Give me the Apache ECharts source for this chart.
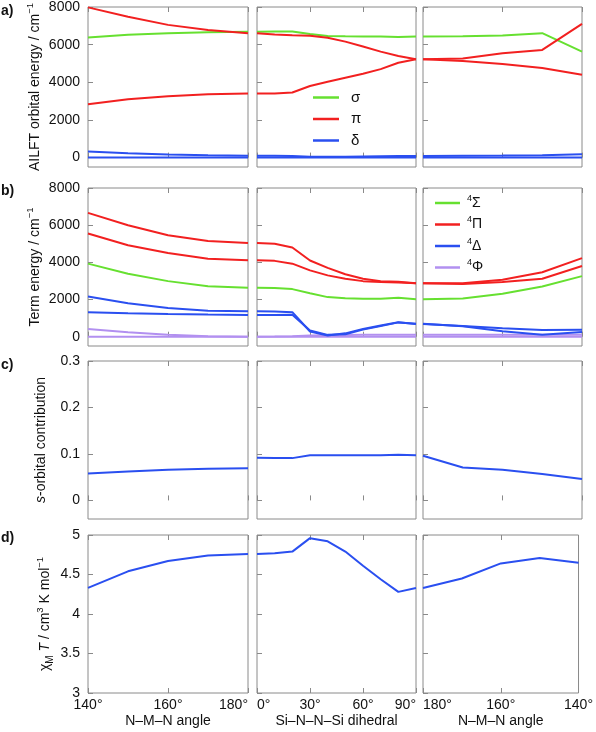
<!DOCTYPE html>
<html><head><meta charset="utf-8">
<script src="https://cdn.jsdelivr.net/npm/echarts@6/dist/echarts.min.js"></script>
<style>html,body{margin:0;padding:0;background:#fff}#c{width:596px;height:732px}</style>
</head><body><div id="c"></div>
<script>
// x values per column
const xAngle = [140, 150, 160, 170, 180];
const xDihedral = [0, 10, 20, 30, 40, 50, 60, 70, 80, 90];
const xAngleRev = [180, 170, 160, 150, 140];

// x tick labels
const xTicksAngle = [140, 160, 180];
const xTicksDihedral = [0, 30, 60, 90];
const xNames = ['N–M–N angle', 'Si–N–N–Si dihedral', 'N–M–N angle'];

// y tick labels
const yTicksA = [0, 2000, 4000, 6000, 8000];
const yTicksB = [0, 2000, 4000, 6000, 8000];
const yTicksC = [0, 0.1, 0.2, 0.3];
const yTicksD = [3, 3.5, 4, 4.5, 5];

// a) AILFT orbital energies
const aSigma1 = [6380, 6520, 6600, 6660, 6690];
const aPiHigh1 = [7980, 7480, 7050, 6780, 6610];
const aPiLow1 = [2830, 3100, 3260, 3360, 3400];
const aDeltaHigh1 = [320, 230, 170, 120, 100];
const aDeltaLow1 = [0, 0, 0, 0, 0];

const aSigma2 = [6690, 6700, 6700, 6560, 6460, 6440, 6430, 6430, 6400, 6430];
const aPiHigh2 = [6610, 6540, 6500, 6470, 6370, 6160, 5900, 5630, 5400, 5220];
const aPiLow2 = [3400, 3410, 3460, 3800, 4030, 4240, 4450, 4700, 5040, 5220];
const aDeltaHigh2 = [100, 100, 80, 40, 40, 50, 60, 70, 80, 90];
const aDeltaLow2 = [0, 0, 0, 0, 0, 0, 0, 0, 0, 0];

const aSigma3 = [6430, 6440, 6490, 6610, 5630];
const aPiHigh3 = [5220, 5270, 5540, 5720, 7100];
const aPiLow3 = [5220, 5130, 4970, 4760, 4400];
const aDeltaHigh3 = [90, 100, 110, 130, 180];
const aDeltaLow3 = [0, 0, 0, 0, 0];

// b) term energies
const bPi1_1 = [6660, 6000, 5460, 5150, 5040];
const bPi2_1 = [5550, 4920, 4500, 4200, 4110];
const bSigma_1 = [3930, 3390, 2990, 2720, 2630];
const bDelta1_1 = [2160, 1800, 1550, 1400, 1370];
const bDelta2_1 = [1320, 1260, 1220, 1190, 1170];
const bPhi1_1 = [410, 240, 110, 20, 0];
const bPhi2_1 = [0, 0, 0, 0, 0];

const bPi1_2 = [5040, 5000, 4800, 4100, 3700, 3360, 3120, 2990, 2960, 2880];
const bPi2_2 = [4110, 4080, 3930, 3570, 3300, 3120, 2990, 2940, 2920, 2880];
const bSigma_2 = [2630, 2620, 2560, 2340, 2130, 2070, 2040, 2040, 2090, 2020];
const bDelta1_2 = [1370, 1360, 1320, 280, 60, 180, 420, 600, 780, 690];
const bDelta2_2 = [1170, 1170, 1180, 330, 100, 130, 380, 570, 770, 700];
const bPhi1_2 = [0, 10, 30, 60, 80, 90, 100, 100, 100, 100];
const bPhi2_2 = [0, 0, 0, 0, 0, 0, 0, 0, 0, 0];

const bPi1_3 = [2880, 2880, 3060, 3470, 4230];
const bPi2_3 = [2880, 2840, 2940, 3120, 3800];
const bSigma_3 = [2020, 2060, 2310, 2700, 3260];
const bDelta1_3 = [690, 580, 450, 360, 380];
const bDelta2_3 = [700, 560, 290, 110, 250];
const bPhi1_3 = [100, 100, 100, 100, 100];
const bPhi2_3 = [0, 0, 0, 0, 0];

// c) s-orbital contribution
const cS1 = [0.058, 0.062, 0.066, 0.068, 0.069];
const cS2 = [0.092, 0.091, 0.091, 0.097, 0.097, 0.097, 0.097, 0.097, 0.098, 0.097];
const cS3 = [0.096, 0.071, 0.066, 0.057, 0.046];

// d) chi_M T
const dChiT1 = [4.33, 4.54, 4.67, 4.74, 4.76];
const dChiT2 = [4.76, 4.77, 4.79, 4.96, 4.92, 4.79, 4.61, 4.44, 4.28, 4.33];
const dChiT3 = [4.33, 4.45, 4.64, 4.71, 4.65];

// ---------------- layout / styles ----------------
const GREEN = '#66e030', RED = '#f22020', BLUE = '#2a4ff0', PURPLE = '#b290f0';
const FONT = 'Liberation Sans';
const BORDER = '#8a8a8a';
const TXT = '#111';

const colX = [xAngle, xDihedral, xAngleRev];
const cols = [{left: 88, width: 160}, {left: 257, width: 159}, {left: 423, width: 159}];
const rows = [{top: 7, height: 160}, {top: 188, height: 158}, {top: 361, height: 158}, {top: 535, height: 158}];

const xCfg = [
  {min: 140, max: 180, interval: 20, inverse: false, aMin: 'center', aMax: 'right'},
  {min: 0, max: 90, interval: 30, inverse: false, aMin: 'left', aMax: 'right'},
  {min: 140, max: 180, interval: 20, inverse: true, aMin: 'center', aMax: 'left'}
];
const yCfg = [
  {min: -500, max: 8000, ticks: yTicksA, name: 'AILFT orbital energy / cm{sup|−1}', gap: 43},
  {min: -500, max: 8000, ticks: yTicksB, name: 'Term energy / cm{sup|−1}', gap: 43},
  {min: -0.04, max: 0.3, ticks: yTicksC, name: '{it|s}-orbital contribution', gap: 37},
  {min: 3, max: 5, ticks: yTicksD, name: 'χ{sub|M} {it|T} / cm{sup|3} K mol{sup|−1}', gap: 33}
];

// series per [row][col]
const panels = [
  [
    [['σ', GREEN, aSigma1], ['π', RED, aPiHigh1], ['π', RED, aPiLow1], ['δ', BLUE, aDeltaHigh1], ['δ', BLUE, aDeltaLow1]],
    [['σ', GREEN, aSigma2], ['π', RED, aPiHigh2], ['π', RED, aPiLow2], ['δ', BLUE, aDeltaHigh2], ['δ', BLUE, aDeltaLow2]],
    [['σ', GREEN, aSigma3], ['π', RED, aPiHigh3], ['π', RED, aPiLow3], ['δ', BLUE, aDeltaHigh3], ['δ', BLUE, aDeltaLow3]]
  ],
  [
    [['Phi', PURPLE, bPhi1_1], ['Phi', PURPLE, bPhi2_1], ['Sig', GREEN, bSigma_1], ['Pi', RED, bPi1_1], ['Pi', RED, bPi2_1], ['Del', BLUE, bDelta1_1], ['Del', BLUE, bDelta2_1]],
    [['Phi', PURPLE, bPhi1_2], ['Phi', PURPLE, bPhi2_2], ['Sig', GREEN, bSigma_2], ['Pi', RED, bPi1_2], ['Pi', RED, bPi2_2], ['Del', BLUE, bDelta1_2], ['Del', BLUE, bDelta2_2]],
    [['Phi', PURPLE, bPhi1_3], ['Phi', PURPLE, bPhi2_3], ['Sig', GREEN, bSigma_3], ['Pi', RED, bPi1_3], ['Pi', RED, bPi2_3], ['Del', BLUE, bDelta1_3], ['Del', BLUE, bDelta2_3]]
  ],
  [[['s', BLUE, cS1]], [['s', BLUE, cS2]], [['s', BLUE, cS3]]],
  [[['chi', BLUE, dChiT1]], [['chi', BLUE, dChiT2]], [['chi', BLUE, dChiT3]]]
];

const grid = [], xAxis = [], yAxis = [], series = [];
const richName = {
  sup: {fontSize: 9.5, fontFamily: FONT, color: TXT, verticalAlign: 'top', lineHeight: 10},
  sub: {fontSize: 10, fontFamily: FONT, color: TXT, verticalAlign: 'bottom', lineHeight: 10},
  it: {fontSize: 14, fontFamily: FONT, fontStyle: 'italic', color: TXT, lineHeight: 20}
};
const numFmt = v => String(+v.toFixed(6));

rows.forEach((r, ri) => {
  cols.forEach((c, ci) => {
    const gi = grid.length;
    grid.push({left: c.left, top: r.top, width: c.width, height: r.height, show: true,
      borderColor: BORDER, borderWidth: 1, backgroundColor: 'transparent', containLabel: false});
    const xc = xCfg[ci];
    const showX = ri === 3;
    // bottom x axis
    xAxis.push({
      type: 'value', gridIndex: gi, min: xc.min, max: xc.max, interval: xc.interval, inverse: xc.inverse,
      position: 'bottom',
      axisLine: {show: false},
      axisTick: {show: true, inside: true, length: 5, lineStyle: {color: BORDER}},
      splitLine: {show: false},
      axisLabel: {show: showX, margin: 5, fontFamily: FONT, fontSize: 14, color: TXT,
        formatter: v => v + '°', alignMinLabel: xc.aMin, alignMaxLabel: xc.aMax},
      name: showX ? xNames[ci] : '', nameLocation: 'middle', nameGap: 21,
      nameTextStyle: {fontFamily: FONT, fontSize: 14, color: TXT, verticalAlign: 'top'}
    });
    // top mirrored ticks
    xAxis.push({
      type: 'value', gridIndex: gi, min: xc.min, max: xc.max, interval: xc.interval, inverse: xc.inverse,
      position: 'top',
      axisLine: {show: false},
      axisTick: {show: true, inside: true, length: 5, lineStyle: {color: BORDER}},
      splitLine: {show: false}, axisLabel: {show: false}
    });
    const yc = yCfg[ri];
    yAxis.push({
      type: 'value', gridIndex: gi, min: yc.min, max: yc.max,
      axisLine: {show: false},
      axisTick: {show: true, inside: true, length: 5, lineStyle: {color: BORDER}, customValues: yc.ticks},
      splitLine: {show: false},
      axisLabel: {show: ci === 0, margin: 8, fontFamily: FONT, fontSize: 14, color: TXT,
        customValues: yc.ticks, formatter: numFmt},
      name: ci === 0 ? yc.name : '', nameLocation: 'middle', nameGap: yc.gap,
      nameTextStyle: {fontFamily: FONT, fontSize: 14, color: TXT, lineHeight: 20, rich: richName}
    });
    panels[ri][ci].forEach(([name, color, vals]) => {
      series.push({
        type: 'line', name: name, xAxisIndex: gi * 2, yAxisIndex: gi,
        data: colX[ci].map((x, i) => [x, vals[i]]),
        symbol: 'none', smooth: false, silent: true,
        lineStyle: {color: color, width: 2},
        itemStyle: {color: color},
        z: 3
      });
    });
  });
});

const bLegendText = {Sig: '{sup|4}Σ', Pi: '{sup|4}Π', Del: '{sup|4}Δ', Phi: '{sup|4}Φ'};
const legRich = {
  sup: {fontSize: 9, fontFamily: FONT, color: TXT, verticalAlign: 'top', lineHeight: 10},
};

const option = {
  animation: false,
  backgroundColor: '#fff',
  textStyle: {fontFamily: FONT},
  grid, xAxis, yAxis, series,
  legend: [
    {
      data: ['σ', 'π', 'δ'], orient: 'vertical', left: 313, top: 90,
      icon: 'rect', itemWidth: 26, itemHeight: 2.5, itemGap: 6.5, selectedMode: false,
      padding: 0,
      textStyle: {fontFamily: FONT, fontSize: 15, color: TXT, lineHeight: 14, padding: [0, 0, 0, 7]}
    },
    {
      data: ['Sig', 'Pi', 'Del', 'Phi'], orient: 'vertical', left: 435, top: 194,
      icon: 'rect', itemWidth: 25, itemHeight: 2.5, itemGap: 3.5, selectedMode: false,
      padding: 0,
      formatter: n => bLegendText[n],
      textStyle: {fontFamily: FONT, fontSize: 14, color: TXT, lineHeight: 18, padding: [0, 0, 0, 2], rich: legRich}
    }
  ],
  graphic: [
    {type: 'text', left: 1, top: 4, style: {text: 'a)', font: 'bold 14px "Liberation Sans"', fill: TXT}},
    {type: 'text', left: 1, top: 184, style: {text: 'b)', font: 'bold 14px "Liberation Sans"', fill: TXT}},
    {type: 'text', left: 1, top: 358, style: {text: 'c)', font: 'bold 14px "Liberation Sans"', fill: TXT}},
    {type: 'text', left: 1, top: 531, style: {text: 'd)', font: 'bold 14px "Liberation Sans"', fill: TXT}}
  ]
};

const chart = echarts.init(document.getElementById('c'), null, {renderer: 'canvas'});
chart.setOption(option);
</script></body></html>
